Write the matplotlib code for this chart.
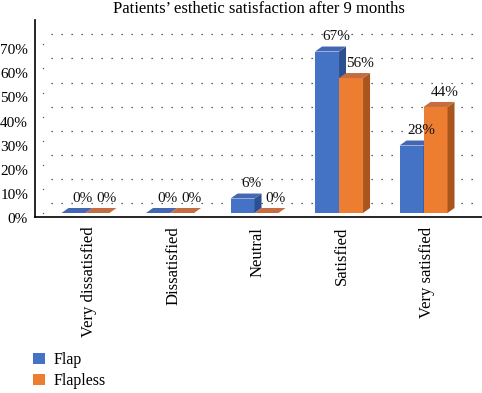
import numpy as np
import matplotlib
matplotlib.use("Agg")
import matplotlib.pyplot as plt
from matplotlib.patches import Rectangle, Polygon, Patch
from matplotlib.transforms import ScaledTranslation

categories = ["Very dissatisfied", "Dissatisfied", "Neutral", "Satisfied", "Very satisfied"]
flap = [0, 0, 6, 67, 28]
flapless = [0, 0, 0, 56, 44]
series_names = ["Flap", "Flapless"]
yticks = [0, 10, 20, 30, 40, 50, 60, 70]
title = "Patients\u2019 esthetic satisfaction after 9 months"

plt.rcParams["font.family"] = ["Liberation Serif", "DejaVu Serif"]

W, H = 482, 393
fig = plt.figure(figsize=(W / 100, H / 100), dpi=100)
ax = fig.add_axes([35 / W, (H - 217) / H, (W - 35) / W, (217 - 20) / H])

# pixel scale: 84.5 px per category, 2.41 px per percent
xmin = -0.598
ax.set_xlim(xmin, xmin + (W - 35) / 84.5)
ax.set_ylim(-4 / 2.41, -4 / 2.41 + 197 / 2.41)

bw = 24 / 84.5          # bar width
dx, dy = 7 / 84.5, 5 / 2.41   # bar depth
wall_dx, wall_dy = 8 / 84.5, 10 / 2.41

colors = [
    dict(front="#4472C4", side="#2C4F8F", top="#4467B3"),
    dict(front="#ED7D31", side="#A9561E", top="#C46C42"),
]

# back wall gridlines (dotted)
x_front = xmin + 8 / 84.5
for v in yticks:
    ax.plot([x_front + wall_dx, ax.get_xlim()[1] - 0.04], [v + wall_dy, v + wall_dy],
            color="#333333", lw=0.9, ls=(0, (1, 7)), zorder=1)
    ax.plot([x_front], [v], marker="o", ms=1.0, mew=0, color="#555555", zorder=1)

x = np.arange(len(categories))
for s, vals in enumerate([flap, flapless]):
    c = colors[s]
    for i, v in enumerate(vals):
        x0 = x[i] - bw + s * bw
        ax.add_patch(Rectangle((x0, 0), bw, v, facecolor=c["front"], edgecolor="none", zorder=3))
        ax.add_patch(Polygon([(x0 + bw, 0), (x0 + bw + dx, dy), (x0 + bw + dx, v + dy), (x0 + bw, v)],
                             closed=True, facecolor=c["side"], edgecolor="none", zorder=3))
        ax.add_patch(Polygon([(x0, v), (x0 + dx, v + dy), (x0 + bw + dx, v + dy), (x0 + bw, v)],
                             closed=True, facecolor=c["top"], edgecolor="none", zorder=3))
        ax.text(x0 + bw / 2 + dx / 2 + 0.07, v + dy + 4.1, f"{v}%", ha="center", va="center",
                fontsize=11, color="#111111", zorder=4)

ax.spines["top"].set_visible(False)
ax.spines["right"].set_visible(False)
ax.spines["left"].set_linewidth(1.2)
ax.spines["bottom"].set_linewidth(1.2)

ax.set_yticks(yticks)
ax.set_yticklabels([f"{t}%" for t in yticks], fontsize=11)
ax.tick_params(axis="y", length=0, pad=5)
for lab in ax.get_yticklabels():
    lab.set_transform(lab.get_transform() + ScaledTranslation(0, -5 / 100, fig.dpi_scale_trans))

ax.set_xticks(x)
ax.set_xticklabels(categories, rotation=90, fontsize=12)
ax.tick_params(axis="x", length=0, pad=7)
for lab in ax.get_xticklabels():
    lab.set_transform(lab.get_transform() + ScaledTranslation(3 / 100, 0, fig.dpi_scale_trans))

fig.text(259 / W, 1 - 9 / H, title, ha="center", va="center", fontsize=12)

handles = [Patch(facecolor=colors[0]["front"]), Patch(facecolor=colors[1]["front"])]
fig.legend(handles, series_names, loc="upper left", bbox_to_anchor=(33 / W, 1 - 352 / H),
           frameon=False, fontsize=11.5, handlelength=0.72, handleheight=0.72,
           handletextpad=0.6, labelspacing=0.3, borderpad=0, borderaxespad=0)

fig.savefig("out.png", dpi=100)
